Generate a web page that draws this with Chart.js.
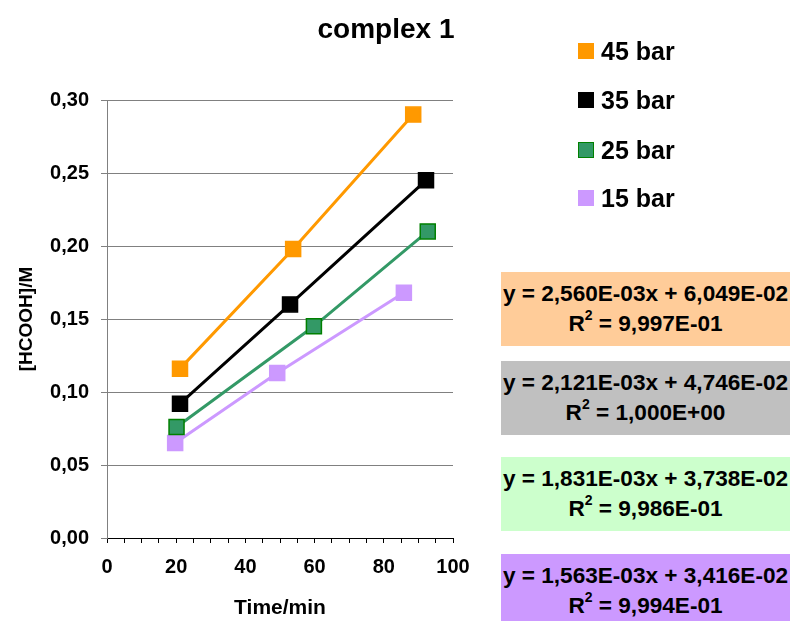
<!DOCTYPE html>
<html lang="en">
  <head>
    <meta charset="UTF-8" />
    <title>complex 1</title>
    <script src="https://cdn.jsdelivr.net/npm/chart.js"></script>
    <style>
      html,
      body {
        margin: 0;
        padding: 0;
        background: #fff;
        font-family: Arial, "Liberation Sans", sans-serif;
      }

      .wrap {
        position: relative;
        width: 792px;
        height: 621px;
        overflow: hidden;
      }

      canvas {
        position: absolute;
        left: 0;
        top: 0;
      }

      .title {
        position: absolute;
        left: 286px;
        width: 200px;
        top: 12px;
        text-align: center;
        font-weight: bold;
        font-size: 28px;
        line-height: 34px;
      }

      .legend-item {
        position: absolute;
        left: 578px;
        height: 30px;
        display: flex;
        align-items: center;
        font-weight: bold;
        font-size: 25px;
      }

      .legend-item span.box {
        display: inline-block;
        width: 16px;
        height: 16px;
        box-sizing: border-box;
        margin-right: 7px;
      }

      .fit {
        position: absolute;
        left: 501px;
        width: 289px;
        height: 74px;
        text-align: center;
        font-weight: bold;
        font-size: 22.6px;
        line-height: 30px;
        padding-top: 7px;
        box-sizing: border-box;
        white-space: nowrap;
      }
    </style>
  </head>
  <body>
    <div class="wrap" id="wrap">
      <canvas id="kinChart" width="792" height="621"></canvas>
      <div class="title">complex 1</div>
    </div>

    <script>
      // Pressure series
      const pressures = ["45 bar", "35 bar", "25 bar", "15 bar"];
      const fillColors = ["#FF9900", "#000000", "#339966", "#CC99FF"];
      const edgeColors = ["#FF9900", "#000000", "#008000", "#CC99FF"];

      // Time (min) and [HCOOH] (M) for each pressure
      const time45 = [21.1, 53.8, 88.5];
      const conc45 = [0.116, 0.198, 0.290];
      const time35 = [21.1, 52.9, 92.2];
      const conc35 = [0.092, 0.160, 0.245];
      const time25 = [20.1, 59.8, 92.7];
      const conc25 = [0.076, 0.145, 0.210];
      const time15 = [19.7, 49.2, 85.8];
      const conc15 = [0.065, 0.113, 0.168];

      // Linear fits
      const fitEquations = [
        "y = 2,560E-03x + 6,049E-02",
        "y = 2,121E-03x + 4,746E-02",
        "y = 1,831E-03x + 3,738E-02",
        "y = 1,563E-03x + 3,416E-02",
      ];
      const fitR2 = ["9,997E-01", "1,000E+00", "9,986E-01", "9,994E-01"];
      const fitColors = ["#FFCC99", "#C0C0C0", "#CCFFCC", "#CC99FF"];
      const fitTops = [272, 361, 457, 554];

      const xTicks = [0, 20, 40, 60, 80, 100];

      const times = [time45, time35, time25, time15];
      const concs = [conc45, conc35, conc25, conc15];

      const datasets = pressures.map((name, i) => ({
        label: name,
        data: times[i].map((t, j) => ({ x: t, y: concs[i][j] })),
        showLine: true,
        borderColor: fillColors[i],
        borderWidth: 3,
        pointStyle: "rect",
        pointRadius: 10.6,
        pointBackgroundColor: fillColors[i],
        pointBorderColor: edgeColors[i],
        pointBorderWidth: 1.5,
      }));

      const ctx = document.getElementById("kinChart").getContext("2d");
      new Chart(ctx, {
        type: "scatter",
        data: { datasets: datasets },
        options: {
          responsive: false,
          animation: false,
          layout: {
            padding: { left: 0, right: 339, top: 100, bottom: 0 },
          },
          plugins: {
            legend: { display: false },
            tooltip: { enabled: false },
          },
          scales: {
            x: {
              type: "linear",
              min: 0,
              max: 100,
              afterFit: (scale) => {
                scale.height = 83;
              },
              ticks: {
                stepSize: 5,
                autoSkip: false,
                maxRotation: 0,
                padding: 12,
                color: "#000",
                font: { family: "Arial", size: 20, weight: "bold" },
                callback: (v) => (xTicks.includes(v) ? String(v) : ""),
              },
              grid: {
                drawOnChartArea: false,
                color: "#000",
                tickLength: 5,
              },
              border: { color: "#000", width: 1 },
              title: {
                display: true,
                text: "Time/min",
                color: "#000",
                padding: { top: 5, bottom: 0 },
                font: { family: "Arial", size: 21, weight: "bold" },
              },
            },
            y: {
              min: 0,
              max: 0.3,
              afterFit: (scale) => {
                scale.width = 107;
              },
              ticks: {
                stepSize: 0.05,
                padding: 12,
                color: "#000",
                font: { family: "Arial", size: 20, weight: "bold" },
                callback: (v) => v.toFixed(2).replace(".", ","),
              },
              grid: {
                color: "#808080",
                tickLength: 6,
              },
              border: { color: "#808080", width: 1 },
              title: {
                display: true,
                text: "[HCOOH]/M",
                color: "#000",
                padding: { top: 15, bottom: 0 },
                font: { family: "Arial", size: 19, weight: "bold" },
              },
            },
          },
        },
      });

      // Legend and fit boxes beside the plot
      const wrap = document.getElementById("wrap");
      const legendTops = [36, 85, 135, 183];
      pressures.forEach((name, i) => {
        const item = document.createElement("div");
        item.className = "legend-item";
        item.style.top = legendTops[i] + "px";
        const box = document.createElement("span");
        box.className = "box";
        box.style.background = fillColors[i];
        if (edgeColors[i] !== fillColors[i]) {
          box.style.border = "1.5px solid " + edgeColors[i];
        }
        item.appendChild(box);
        item.appendChild(document.createTextNode(name));
        wrap.appendChild(item);

        const fit = document.createElement("div");
        fit.className = "fit";
        fit.style.top = fitTops[i] + "px";
        fit.style.background = fitColors[i];
        fit.innerHTML =
          fitEquations[i] +
          "<br>R<sup style='font-size:14px;line-height:0;vertical-align:11px'>2</sup> = " +
          fitR2[i];
        wrap.appendChild(fit);
      });
    </script>
  </body>
</html>
